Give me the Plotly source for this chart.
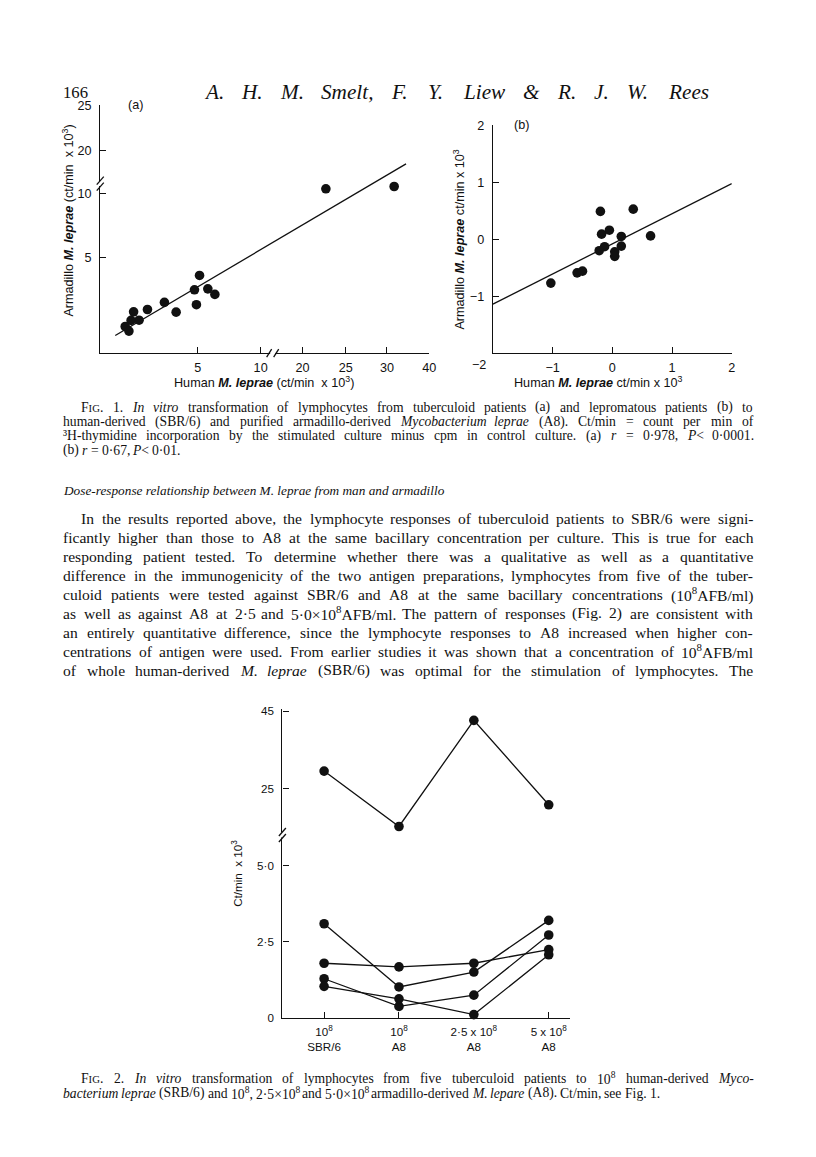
import re
import numpy as np
import plotly.graph_objects as go

W, H = 816, 1157

# ---------------- data ----------------
# Fig. 1(a): tuberculoid patients, ct/min x 10^3
fig1a_human = [22.7, 31.7, 5.14, 4.83, 5.80, 6.36, 4.93, 3.89, 3.29, 2.42, 1.71, 1.99, 1.58, 1.28, 1.47]
fig1a_armadillo = [10.39, 10.57, 4.06, 3.31, 3.36, 3.07, 2.53, 2.14, 2.65, 2.28, 2.16, 1.72, 1.71, 1.39, 1.15]
fig1a_fit_x = [0.77, 34.5]
fig1a_fit_y = [0.92, 18.5]
fig1a_xticks = [5, 10, 20, 25, 30, 40]
fig1a_yticks = [5, 10, 20, 25]

# Fig. 1(b): lepromatous patients, ct/min x 10^3
fig1b_human = [-1.03, -0.59, -0.50, -0.20, -0.18, -0.05, -0.13, -0.22, 0.04, 0.04, 0.15, 0.15, 0.35, 0.64]
fig1b_armadillo = [-0.77, -0.59, -0.56, 0.49, 0.09, 0.16, -0.13, -0.20, -0.22, -0.30, 0.05, -0.12, 0.53, 0.06]
fig1b_fit_x = [-2.0, 2.0]
fig1b_fit_y = [-1.14, 0.98]
fig1b_xticks = [-1, 0, 1, 2]
fig1b_xticklabels = ["\u22121", "0", "1", "2"]
fig1b_yticks = [-1, 0, 1, 2]
fig1b_yticklabels = ["\u22121", "0", "1", "2"]

# Fig. 2: five tuberculoid patients, ct/min x 10^3
fig2_categories = ["10<sup>8</sup><br>SBR/6", "10<sup>8</sup><br>A8",
                   "2\u00b75 x 10<sup>8</sup><br>A8", "5 x 10<sup>8</sup><br>A8"]
fig2_patient1 = [29.5, 15.2, 42.6, 20.8]
fig2_patient2 = [3.10, 1.02, 1.51, 3.21]
fig2_patient3 = [1.80, 1.68, 1.80, 2.25]
fig2_patient4 = [1.29, 0.38, 0.75, 2.73]
fig2_patient5 = [1.04, 0.63, 0.11, 2.08]
fig2_yticks = [0, 2.5, 5, 25, 45]
fig2_yticklabels = ["0", "2\u00b75", "5\u00b70", "25", "45"]

# ---------------- broken-axis scales (value -> pixel offset from origin) ----------------
AX1A_X_VALS = [0, 5, 10, 11, 16.6, 20, 25, 30, 40]
AX1A_X_PX = [0, 97.3, 160, 172, 172, 201.7, 245, 286, 328.3]
AX1A_Y_VALS = [0, 5, 10, 10.8, 16.3, 20, 25]
AX1A_Y_PX = [0, 95.7, 159.4, 169.6, 169.6, 202.7, 247.7]
AX2_Y_VALS = [0, 5, 45]
AX2_Y_PX = [0, 152, 307]


def scale(vals, kv, kp):
    return list(np.interp(np.asarray(vals, float), kv, kp))


def t1ax(v):
    return scale(v, AX1A_X_VALS, AX1A_X_PX)


def t1ay(v):
    return scale(v, AX1A_Y_VALS, AX1A_Y_PX)


def t2y(v):
    return scale(v, AX2_Y_VALS, AX2_Y_PX)


# page-placement calibration (reference pixel -> page fraction)
K = 0.989
OY = 6.5


def PX(x):
    return (x / K) / W


def PY(y):
    return 1 - ((y - OY) / K) / H


def FS(s):
    return round(s / K, 2)


SERIF = "Liberation Serif"
SANS = "Liberation Sans"
INK = "#111111"

# ---------------- text metrics (Times metrics) ----------------
ROMAN = {' ': 250, '!': 333, '"': 408, '%': 833, '&': 778, "'": 333, '(': 333, ')': 333, '*': 500,
         '+': 564, ',': 250, '-': 333, '.': 250, '/': 278, ':': 278, ';': 278, '<': 564, '=': 564,
         '>': 564, '?': 444, 'A': 722, 'B': 667, 'C': 667, 'D': 722, 'E': 611, 'F': 556, 'G': 722,
         'H': 722, 'I': 333, 'J': 389, 'K': 722, 'L': 611, 'M': 889, 'N': 722, 'O': 722, 'P': 556,
         'Q': 722, 'R': 667, 'S': 556, 'T': 611, 'U': 722, 'V': 722, 'W': 944, 'X': 722, 'Y': 722,
         'Z': 611, 'a': 444, 'b': 500, 'c': 444, 'd': 500, 'e': 444, 'f': 333, 'g': 500, 'h': 500,
         'i': 278, 'j': 278, 'k': 500, 'l': 278, 'm': 778, 'n': 500, 'o': 500, 'p': 500, 'q': 500,
         'r': 333, 's': 389, 't': 278, 'u': 500, 'v': 500, 'w': 722, 'x': 500, 'y': 500, 'z': 444,
         '\u00b7': 250, '\u00d7': 564, '\u00b3': 300}
for d in '0123456789':
    ROMAN[d] = 500
ITALIC = dict(ROMAN)
ITALIC.update({'a': 500, 'f': 278, 'k': 444, 'm': 722, 'r': 389, 'v': 444, 'w': 667, 'x': 444,
               'y': 444, 'z': 389, 'A': 611, 'B': 611, 'F': 611, 'J': 444, 'K': 667, 'L': 556,
               'M': 833, 'N': 667, 'P': 611, 'R': 611, 'S': 500, 'T': 556, 'V': 611, 'W': 833,
               'X': 611, 'Y': 556, 'Z': 556})
SC = 0.78


def text_width(markup, size):
    total = 0.0
    ital = sup = sc = False
    for tok in re.findall(r"</?sc>|</?i>|</?b>|</?sup>|&lt;|&gt;|&amp;|.", markup):
        if tok == '<i>':
            ital = True
            continue
        if tok == '</i>':
            ital = False
            continue
        if tok in ('<b>', '</b>'):
            continue
        if tok == '<sup>':
            sup = True
            continue
        if tok == '</sup>':
            sup = False
            continue
        if tok == '<sc>':
            sc = True
            continue
        if tok == '</sc>':
            sc = False
            continue
        ch = {'&lt;': '<', '&gt;': '>', '&amp;': '&'}.get(tok, tok)
        table = ITALIC if ital else ROMAN
        w = table.get(ch, 500)
        f = 0.7 if sup else 1.0
        if sc:
            f *= SC
        total += w * f
    return total * size / 1000.0


def split_words(line):
    out = []
    ital = False
    for w in line.split(' '):
        prefix = '<i>' if ital else ''
        for m in re.finditer(r'</?i>', w):
            ital = (m.group() == '<i>')
        suffix = '</i>' if ital else ''
        out.append(prefix + w + suffix)
    return out


annotations = []
shapes = []


def add_text(x_px, y_px, text, size, family=SERIF, anchor='left', angle=0):
    text = text.replace('<sc>', "<span style='font-size:%.1fpx'>" % FS(size * SC)).replace('</sc>', '</span>')
    annotations.append(dict(x=PX(x_px), y=PY(y_px), xref='paper', yref='paper', text=text,
                            showarrow=False, xanchor=anchor, yanchor='middle', borderpad=0,
                            textangle=angle, font=dict(family=family, size=FS(size), color=INK)))


def text_line(line, x0, x1, y, size, justify=True):
    words = split_words(line)
    widths = [text_width(w, size) for w in words]
    if justify and len(words) > 1:
        gap = (x1 - x0 - sum(widths)) / (len(words) - 1)
    else:
        gap = text_width(' ', size)
    x = x0
    for w, wd in zip(words, widths):
        add_text(x, y, w, size)
        x += wd + gap


# ---------------- page text ----------------
LEFT, RIGHT = 62, 750
add_text(62, 92, "166", 16.5)
text_line("<i>A. H. M. Smelt, F. Y. Liew &amp; R. J. W. Rees</i>", 203, 705, 92, 21, True)

cap = 13.5
cap1 = [
    ("F<sc>IG</sc>. 1. <i>In vitro</i> transformation of lymphocytes from tuberculoid patients (a) and lepromatous patients (b) to", 80, True),
    ("human-derived (SBR/6) and purified armadillo-derived <i>Mycobacterium leprae</i> (A8). Ct/min = count per min of", LEFT, True),
    ("\u00b3H-thymidine incorporation by the stimulated culture minus cpm in control culture. (a) <i>r</i> = 0\u00b7978, <i>P</i>&lt; 0\u00b70001.", LEFT, True),
    ("(b) <i>r</i> = 0\u00b767, <i>P</i>&lt; 0\u00b701.", LEFT, False),
]
for i, (ln, x0, j) in enumerate(cap1):
    text_line(ln, x0, RIGHT, 407 + 14.3 * i, cap, j)

heading = "<i>Dose-response relationship between M. leprae from man and armadillo</i>"
hsize = 378 / text_width(heading, 1.0)
add_text(LEFT, 490, heading, hsize)

body = 15.4
para = [
    ("In the results reported above, the lymphocyte responses of tuberculoid patients to SBR/6 were signi-", 80),
    ("ficantly higher than those to A8 at the same bacillary concentration per culture. This is true for each", LEFT),
    ("responding patient tested. To determine whether there was a qualitative as well as a quantitative", LEFT),
    ("difference in the immunogenicity of the two antigen preparations, lymphocytes from five of the tuber-", LEFT),
    ("culoid patients were tested against SBR/6 and A8 at the same bacillary concentrations (10<sup>8</sup>AFB/ml)", LEFT),
    ("as well as against A8 at 2\u00b75 and 5\u00b70\u00d710<sup>8</sup>AFB/ml. The pattern of responses (Fig. 2) are consistent with", LEFT),
    ("an entirely quantitative difference, since the lymphocyte responses to A8 increased when higher con-", LEFT),
    ("centrations of antigen were used. From earlier studies it was shown that a concentration of 10<sup>8</sup>AFB/ml", LEFT),
    ("of whole human-derived <i>M. leprae</i> (SBR/6) was optimal for the stimulation of lymphocytes. The", LEFT),
]
for i, (ln, x0) in enumerate(para):
    text_line(ln, x0, RIGHT, 518 + 19 * i, body, True)

cap2 = [
    ("F<sc>IG</sc>. 2. <i>In vitro</i> transformation of lymphocytes from five tuberculoid patients to 10<sup>8</sup> human-derived <i>Myco-</i>", 80, True),
    ("<i>bacterium leprae</i> (SRB/6) and 10<sup>8</sup>, 2\u00b75\u00d710<sup>8</sup> and 5\u00b70\u00d710<sup>8</sup> armadillo-derived <i>M. lepare</i> (A8). Ct/min, see Fig. 1.", LEFT, False),
]
for i, (ln, x0, j) in enumerate(cap2):
    text_line(ln, x0, RIGHT, 1078 + 15 * i, cap, j)

# ---------------- chart labels ----------------
LAB = 12.5
add_text(135, 105, "(a)", LAB, SANS, 'center')
add_text(520, 125, "(b)", LAB, SANS, 'center')
add_text(263, 382, "Human <b><i>M. leprae</i></b> (ct/min  x 10<sup>3</sup>)", LAB, SANS, 'center')
add_text(68, 220, "Armadillo <b><i>M. leprae</i></b> (ct/min  x 10<sup>3</sup>)", LAB, SANS, 'center', -90)
add_text(597, 382, "Human <b><i>M. leprae</i></b> ct/min x 10<sup>3</sup>", LAB, SANS, 'center')
add_text(458, 239, "Armadillo <b><i>M. leprae</i></b> ct/min x 10<sup>3</sup>", LAB, SANS, 'center', -90)
add_text(478, 365, "\u22122", LAB, SANS, 'center')
add_text(237, 873, "Ct/min  x 10<sup>3</sup>", 11.5, SANS, 'center', -90)

# ---------------- figure ----------------
fig = go.Figure()
LW = 1.3
MS = 9.6

fig.add_trace(go.Scatter(x=t1ax(fig1a_fit_x), y=t1ay(fig1a_fit_y), mode='lines',
                         line=dict(color=INK, width=LW), xaxis='x', yaxis='y', showlegend=False))
fig.add_trace(go.Scatter(x=t1ax(fig1a_human), y=t1ay(fig1a_armadillo), mode='markers',
                         marker=dict(color=INK, size=MS), xaxis='x', yaxis='y', showlegend=False))
fig.add_trace(go.Scatter(x=fig1b_fit_x, y=fig1b_fit_y, mode='lines',
                         line=dict(color=INK, width=LW), xaxis='x2', yaxis='y2', showlegend=False))
fig.add_trace(go.Scatter(x=fig1b_human, y=fig1b_armadillo, mode='markers',
                         marker=dict(color=INK, size=MS), xaxis='x2', yaxis='y2', showlegend=False))
for series in [fig2_patient1, fig2_patient2, fig2_patient3, fig2_patient4, fig2_patient5]:
    fig.add_trace(go.Scatter(x=fig2_categories, y=t2y(series), mode='lines+markers',
                             line=dict(color=INK, width=LW), marker=dict(color=INK, size=MS),
                             xaxis='x3', yaxis='y3', showlegend=False, cliponaxis=False))

axis_common = dict(showline=True, linecolor=INK, linewidth=LW, ticks='inside', ticklen=6,
                   tickwidth=LW, tickcolor=INK, showgrid=False, zeroline=False, fixedrange=True,
                   tickfont=dict(family=SANS, size=FS(LAB), color=INK))

# axes pixel boxes (reference pixels)
A1 = dict(x0=100, x1=428.3, y0=105, y1=352.7)
A2 = dict(x0=491.7, x1=730, y0=125, y1=352.7)
A3 = dict(x0=281.7, x1=568.3, y0=709, y1=1017.7)

fig.update_layout(
    width=W, height=H, margin=dict(l=0, r=0, t=0, b=0, pad=0),
    paper_bgcolor='white', plot_bgcolor='white',
    xaxis=dict(axis_common, domain=[PX(A1['x0']), PX(A1['x1'])], range=[0, A1['x1'] - A1['x0']],
               anchor='y', tickvals=t1ax(fig1a_xticks), ticktext=[str(v) for v in fig1a_xticks],
               ticklabelstandoff=3),
    yaxis=dict(axis_common, domain=[PY(A1['y1']), PY(A1['y0'])], range=[0, A1['y1'] - A1['y0']],
               anchor='x', tickvals=t1ay(fig1a_yticks), ticktext=[str(v) for v in fig1a_yticks],
               ticklabelstandoff=5),
    xaxis2=dict(axis_common, domain=[PX(A2['x0']), PX(A2['x1'])], range=[-2, 2], anchor='y2',
                tickvals=fig1b_xticks, ticktext=fig1b_xticklabels, ticklabelstandoff=3),
    yaxis2=dict(axis_common, domain=[PY(A2['y1']), PY(A2['y0'])], range=[-2, 2], anchor='x2',
                tickvals=fig1b_yticks, ticktext=fig1b_yticklabels, ticklabelstandoff=5),
    xaxis3=dict(axis_common, domain=[PX(A3['x0']), PX(A3['x1'])], type='category',
                range=[-0.557, 3.28], anchor='y3', tickfont=dict(family=SANS, size=FS(11.5), color=INK),
                ticklabelstandoff=3),
    yaxis3=dict(axis_common, domain=[PY(A3['y1']), PY(A3['y0'])], range=[0, A3['y1'] - A3['y0']],
                anchor='x3', tickvals=t2y(fig2_yticks), ticktext=fig2_yticklabels,
                tickfont=dict(family=SANS, size=FS(11.5), color=INK), ticklabelstandoff=5),
)


# ---------------- axis break marks ----------------
def gap_rect(x0, y0, x1, y1):
    shapes.append(dict(type='rect', xref='paper', yref='paper', x0=PX(x0), x1=PX(x1),
                       y0=PY(y0), y1=PY(y1), fillcolor='white', line=dict(width=0), layer='above'))


def slash(x0, y0, x1, y1):
    shapes.append(dict(type='line', xref='paper', yref='paper', x0=PX(x0), x1=PX(x1),
                       y0=PY(y0), y1=PY(y1), line=dict(color=INK, width=LW), layer='above'))


def vbreak(x, y):
    gap_rect(x - 3, y - 2.5, x + 3, y + 2.5)
    slash(x - 3.5, y + 1, x + 3.5, y - 7)
    slash(x - 3.5, y + 7, x + 3.5, y - 1)


def hbreak(x, y):
    gap_rect(x - 2.5, y - 3, x + 2.5, y + 3)
    slash(x - 6, y + 4, x - 1, y - 4)
    slash(x + 1, y + 4, x + 6, y - 4)


vbreak(A1['x0'], A1['y1'] - t1ay([10.8])[0])
hbreak(A1['x0'] + t1ax([11])[0], A1['y1'])
vbreak(A3['x0'], A3['y1'] - t2y([13])[0])

fig.update_layout(annotations=annotations, shapes=shapes)
fig.write_html("out.html", config={'responsive': False, 'displayModeBar': False},
               post_script="document.body.style.margin='0';document.body.style.overflow='hidden';")
